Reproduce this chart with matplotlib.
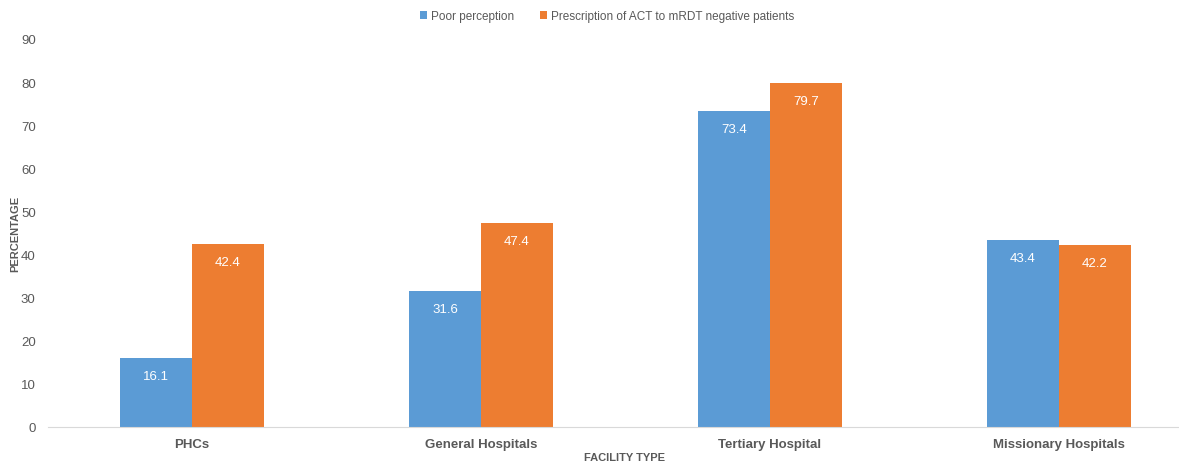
import numpy as np
import matplotlib.pyplot as plt

plt.rcParams['font.family'] = ['Liberation Sans', 'DejaVu Sans']

categories = ["PHCs", "General Hospitals", "Tertiary Hospital", "Missionary Hospitals"]
poor_perception = [16.1, 31.6, 73.4, 43.4]
act_prescription = [42.4, 47.4, 79.7, 42.2]
series_names = ["Poor perception", "Prescription of ACT to mRDT negative patients"]

BLUE = "#5B9BD5"
ORANGE = "#ED7D31"
GREY = "#595959"

W, H = 1179, 464
fig = plt.figure(figsize=(W / 100, H / 100), dpi=100)
# plot area runs a little past the right edge of the canvas
ax = fig.add_axes([47.5 / W, 36 / H, 1156 / W, 388 / H])

x = np.arange(len(categories))
bw = 0.249
b1 = ax.bar(x - bw / 2, poor_perception, bw, color=BLUE, label=series_names[0])
b2 = ax.bar(x + bw / 2, act_prescription, bw, color=ORANGE, label=series_names[1])

for bars, vals in ((b1, poor_perception), (b2, act_prescription)):
    for rect, v in zip(bars, vals):
        ax.annotate(f"{v:.1f}", (rect.get_x() + rect.get_width() / 2, v),
                    xytext=(0, -13), textcoords="offset points",
                    ha="center", va="center", color="white", fontsize=9.5)

ax.set_xlim(-0.5, len(categories) - 0.5)
ax.set_ylim(0, 90)
ax.set_yticks(range(0, 91, 10))
ax.set_xticks(x)
ax.set_xticklabels(categories, fontweight="bold")
ax.tick_params(axis="both", length=0, colors=GREY, labelsize=9.5)
ax.tick_params(axis="x", pad=8)
ax.tick_params(axis="y", pad=8.5)

for side in ("top", "right", "left"):
    ax.spines[side].set_visible(False)
ax.spines["bottom"].set_color("#D9D9D9")

fig.text(15 / W, 1 - 234 / H, "PERCENTAGE", rotation=90, ha="center", va="center",
         color=GREY, fontsize=8, fontweight="bold")
fig.text(625 / W, 1 - 458 / H, "FACILITY TYPE", ha="center", va="center",
         color=GREY, fontsize=8, fontweight="bold")

fig.legend(loc="center", bbox_to_anchor=(607 / W, 1 - 17 / H), ncol=2, frameon=False,
           fontsize=8.5, labelcolor=GREY, handlelength=0.6, handleheight=0.6,
           handletextpad=0.3, columnspacing=2.2)

fig.savefig("out.png", dpi=100)
